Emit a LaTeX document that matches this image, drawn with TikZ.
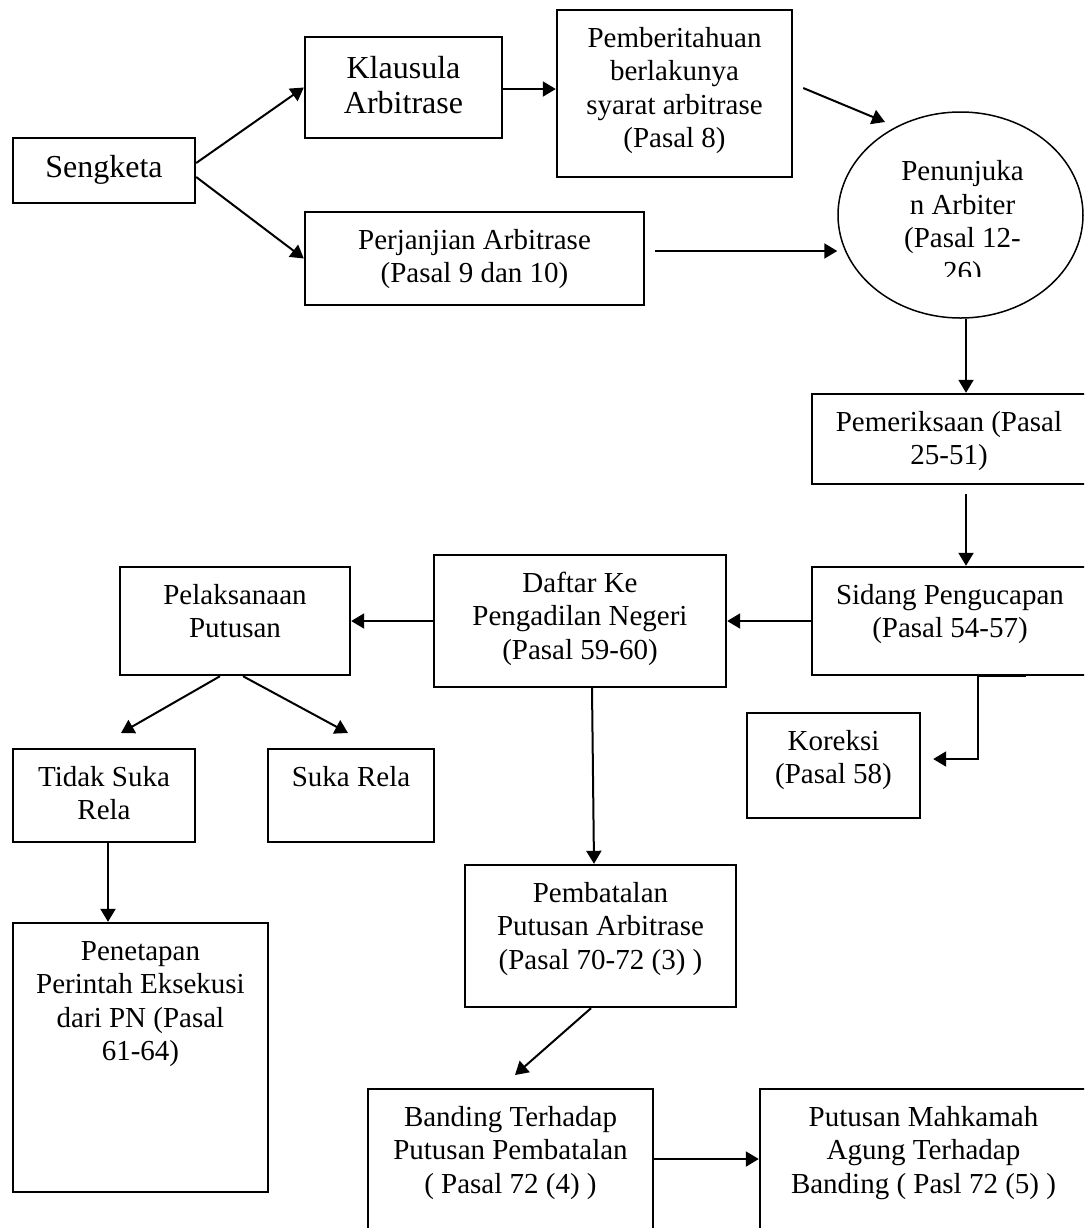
\documentclass[tikz,border=0pt]{standalone}
\usepackage{fontspec}
\setmainfont{Liberation Serif}
\usetikzlibrary{arrows.meta}
\usetikzlibrary{shapes.geometric}
\newlength{\pxu}
\setlength{\pxu}{0.5pt}
% teks rata atas di dalam kotak (lebar, tinggi dalam piksel)
\newcommand{\isi}[4][37]{\parbox[c][#3\pxu][t]{#2\pxu}{\centering\rule{0pt}{#1\pxu}#4}}
\begin{document}
\begin{tikzpicture}[x=0.5pt, y=-0.5pt,
  kotak/.style={draw, rectangle, inner sep=0pt, line width=1.2pt, font=\fontsize{14.5pt}{16.8pt}\selectfont},
  kotakbesar/.style={kotak, font=\fontsize{16pt}{17.5pt}\selectfont},
  panah/.style={-{Triangle[length=\l, width=\w]}, line width=1pt}]
\def\l{6.5pt}
\def\w{7.5pt}
\useasboundingbox (0,0) rectangle (1084,1228);
\clip (0,0) rectangle (1084,1228);
\node [kotakbesar] (sengketa) at (104,170.5)    {\isi[39]{182}{65}{Sengketa}};
\node [kotakbesar] (klausula) at (403.5,87.5)   {\isi[41]{197}{101}{Klausula\\Arbitrase}};
\node [kotak] (pemberitahuan) at (674.5,93.5)   {\isi{235}{167}{Pemberitahuan\\berlakunya\\syarat arbitrase\\(Pasal 8)}};
\node [kotak] (perjanjian)    at (474.5,258.5)  {\isi{339}{93}{Perjanjian Arbitrase\\(Pasal 9 dan 10)}};
\node [draw, ellipse, inner sep=0pt, line width=0.75pt, minimum width=245\pxu, minimum height=206\pxu] (penunjukan) at (960.5,215) {};
\begin{scope}
\clip (838,150) rectangle (1084,276);
\node [anchor=north, inner sep=0pt, font=\fontsize{14.5pt}{16.8pt}\selectfont] (arbiter) at (962.5,143) {\isi{240}{150}{Penunjuka\\n Arbiter\\(Pasal 12-\\26)}};
\end{scope}
\node [kotak] (pemeriksaan)   at (949,439)      {\isi{274}{90}{Pemeriksaan (Pasal\\25-51)}};
\node [kotak] (sidang)        at (950,621)      {\isi{276}{108}{Sidang Pengucapan\\(Pasal 54-57)}};
\node [kotak] (daftar)        at (580,621)      {\isi{292}{132}{Daftar Ke\\Pengadilan Negeri\\(Pasal 59-60)}};
\node [kotak] (pelaksanaan)   at (235,621)      {\isi{230}{108}{Pelaksanaan\\Putusan}};
\node [kotak] (tidaksukarela) at (104,795.5)    {\isi{182}{93}{Tidak Suka\\Rela}};
\node [kotak] (sukarela)      at (351,795.5)    {\isi{166}{93}{Suka Rela}};
\node [kotak] (penetapan)     at (140.5,1057.5) {\isi{255}{269}{Penetapan\\Perintah Eksekusi\\dari PN (Pasal\\61-64)}};
\node [kotak] (koreksi)       at (833.5,765.5)  {\isi{173}{105}{Koreksi\\(Pasal 58)}};
\node [kotak] (pembatalan)    at (600.5,936)    {\isi{271}{142}{Pembatalan\\Putusan Arbitrase\\(Pasal 70-72 (3) )}};
\node [kotak] (banding)       at (510.5,1164.5) {\isi{285}{151}{Banding Terhadap\\Putusan Pembatalan\\( Pasal 72 (4) )}};
\node [kotak] (putusanma)     at (923.5,1164.5) {\isi{327}{151}{Putusan Mahkamah\\Agung Terhadap\\Banding ( Pasl 72 (5) )}};
\coordinate (ujungsyarat)  at (885,122);
\coordinate (ujungkiri)    at (121,733);
\coordinate (ujungkanan)   at (348,733);
\coordinate (ujungbanding) at (515,1075);
\draw [panah]([yshift=3.75pt]sengketa.east) -- (klausula.west);
\draw [panah]([yshift=-3.25pt]sengketa.east) -- (perjanjian.west);
\draw [panah]([yshift=-0.75pt]klausula.east) -- ([yshift=-0.75pt]klausula.east -| pemberitahuan.west);
\draw [panah]([xshift=5pt,yshift=2.75pt]pemberitahuan.east) -- (ujungsyarat);
\draw [panah]([xshift=5pt,yshift=3.75pt]perjanjian.east) -- ([yshift=3.75pt]perjanjian.east -| penunjukan.west);
\draw [panah]([xshift=2.75pt]penunjukan.south) -- ([xshift=2.75pt]penunjukan.south |- pemeriksaan.north);
\draw [panah]([xshift=8.5pt,yshift=-4.5pt]pemeriksaan.south) -- ([xshift=8.5pt]pemeriksaan.south |- sidang.north);
\draw [panah](sidang.west) -- (daftar.east);
\draw [panah](daftar.west) -- (pelaksanaan.east);
\draw [panah]([xshift=-7.5pt]pelaksanaan.south) -- (ujungkiri);
\draw [panah]([xshift=4pt]pelaksanaan.south) -- (ujungkanan);
\draw [panah]([xshift=2pt]tidaksukarela.south) -- ([xshift=2pt]tidaksukarela.south |- penetapan.north);
\draw [panah]([xshift=6pt]daftar.south) -- ([xshift=-3.25pt]pembatalan.north);
\draw [panah]([xshift=38pt]sidang.south) -- ([xshift=14pt]sidang.south) |- ([xshift=6pt,yshift=3.25pt]koreksi.east);
\draw [panah]([xshift=-4.75pt]pembatalan.south) -- (ujungbanding);
\draw [panah]([yshift=2.75pt]banding.east) -- ([yshift=2.75pt]banding.east -| putusanma.west);
%\draw [panah](putusanma.north) -- ++(0,-20);
\end{tikzpicture}
\end{document}
